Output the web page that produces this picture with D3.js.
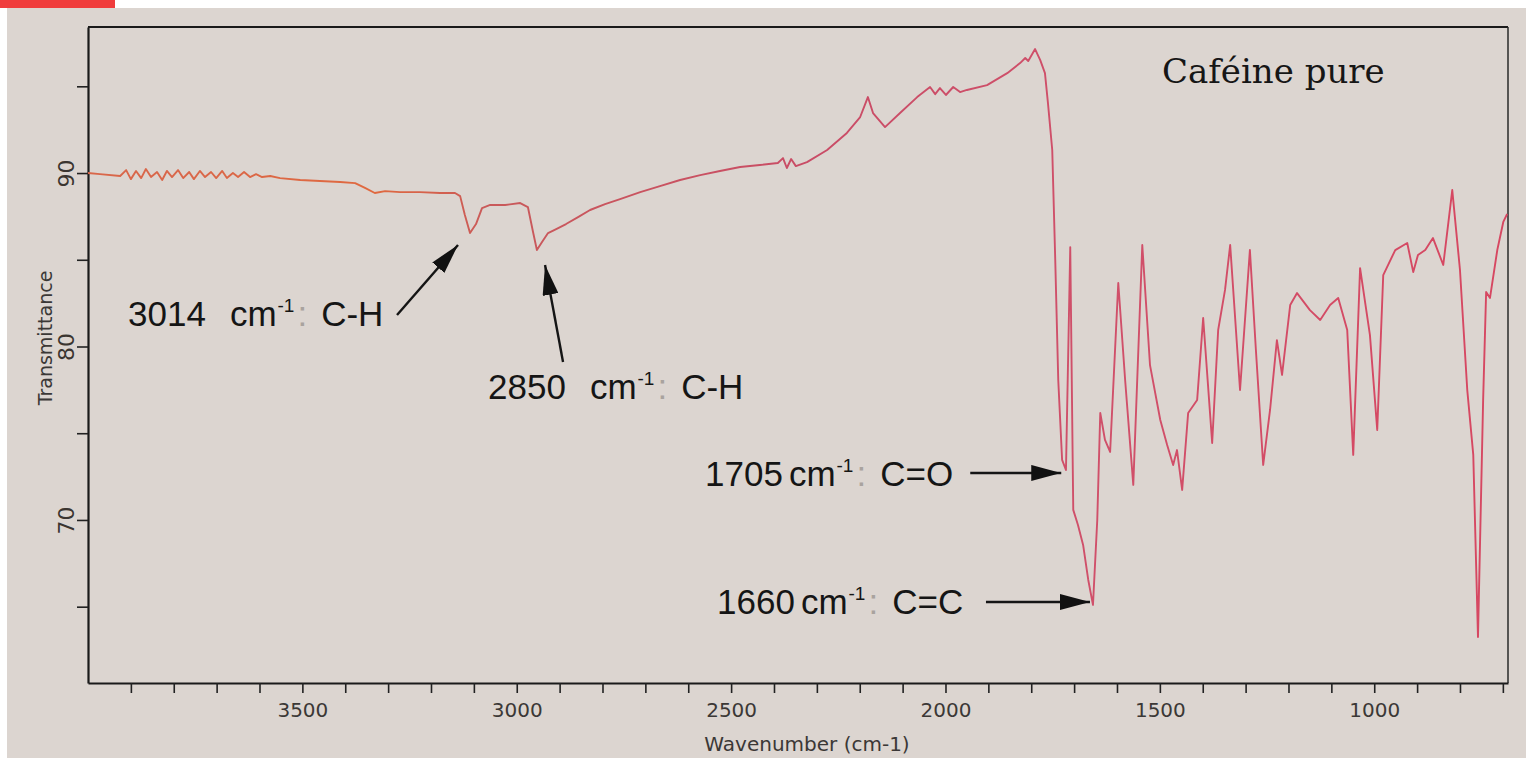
<!DOCTYPE html>
<html>
<head>
<meta charset="utf-8">
<script src="https://cdn.jsdelivr.net/npm/d3@7"></script>
<style>
  body { margin: 0; background: #ffffff; }
  svg { display: block; }
</style>
</head>
<body>
<div id="chart"></div>
<script>
// spectrum (cm-1 and %T)
var wavenumber = [4000,3972,3925,3911,3900,3888,3876,3865,3853,3839,
  3827,3816,3804,3790,3778,3764,3753,3739,3727,3713,
  3701,3687,3676,3662,3650,3636,3622,3608,3594,3575,
  3552,3505,3459,3412,3377,3354,3331,3307,3272,3226,
  3179,3144,3132,3121,3109,3095,3081,3062,3027,2992,
  2974,2962,2953,2941,2927,2908,2885,2857,2829,2794,
  2759,2712,2666,2619,2572,2526,2479,2433,2391,2379,
  2370,2360,2349,2323,2276,2230,2199,2181,2169,2141,
  2106,2066,2036,2024,2013,1999,1982,1966,1950,1903,
  1856,1826,1814,1807,1791,1779,1768,1761,1751,1744,
  1737,1728,1719,1709,1702,1691,1679,1667,1656,1646,
  1639,1628,1616,1597,1581,1562,1541,1523,1499,1483,
  1469,1460,1448,1434,1413,1399,1378,1364,1348,1336,
  1313,1290,1276,1259,1243,1227,1215,1196,1180,1150,
  1126,1103,1084,1063,1049,1033,1010,993,979,951,
  923,909,898,881,863,839,818,800,783,769,
  758,746,739,730,713,699,690];

var transmittance = [90.0,89.94,89.83,90.17,89.65,90.12,89.71,90.23,89.77,90.06,
  89.60,90.12,89.77,90.17,89.71,90.06,89.65,90.12,89.77,90.06,
  89.71,90.12,89.71,90.0,89.77,90.06,89.77,89.94,89.77,89.83,
  89.71,89.60,89.54,89.48,89.42,89.14,88.85,88.96,88.90,88.90,
  88.85,88.85,88.67,87.58,86.54,87.06,87.98,88.16,88.16,88.27,
  88.04,86.60,85.56,86.02,86.54,86.77,87.06,87.46,87.87,88.21,
  88.50,88.90,89.25,89.60,89.88,90.12,90.35,90.46,90.58,90.86,
  90.29,90.81,90.40,90.63,91.33,92.31,93.23,94.38,93.46,92.65,
  93.46,94.38,94.96,94.55,94.90,94.50,94.96,94.67,94.79,95.07,
  95.76,96.34,96.63,96.46,97.15,96.51,95.76,94.03,91.33,84.99,
  78.07,73.46,72.88,85.73,70.58,69.71,68.56,66.54,65.10,70.00,
  76.17,74.61,73.92,83.66,78.07,72.02,85.85,78.93,75.76,74.32,
  73.17,74.03,71.73,76.17,76.92,81.64,74.44,80.95,83.26,85.85,
  77.49,85.56,79.80,73.17,76.34,80.37,78.36,82.39,83.08,82.10,
  81.53,82.39,82.80,80.95,73.75,84.52,80.66,75.19,84.12,85.56,
  85.97,84.29,85.27,85.56,86.25,84.70,89.02,84.41,77.49,73.75,
  63.25,76.92,83.14,82.80,85.56,87.18,87.64];

var xTicks = [3900,3800,3700,3600,3500,3400,3300,3200,3100,3000,2900,2800,2700,2600,2500,
  2400,2300,2200,2100,2000,1900,1800,1700,1600,1500,1400,1300,1200,1100,1000,900,800,700];
var xLabels = [3500, 3000, 2500, 2000, 1500, 1000];
var yTicks = [95, 90, 85, 80, 75, 70, 65];
var yLabels = [90, 80, 70];

// annotations: number, group, arrow tip (cm-1, %T)
var peakNumbers = ["3014", "2850", "1705", "1660"];
var peakGroups = ["C-H", "C-H", "C=O", "C=C"];
var tipWavenumber = [3137, 2934, 1730, 1663];
var tipTransmittance = [85.85, 84.70, 72.71, 65.27];

var W = 1526, H = 758;
var margin = { top: 27, right: 18, bottom: 75, left: 88 },
    width = W - margin.left - margin.right,
    height = H - margin.top - margin.bottom;

var svg = d3.select("#chart").append("svg")
    .attr("width", W).attr("height", H);

// photo background + the little red strip in the corner
svg.append("rect").attr("x", 7).attr("y", 8).attr("width", W - 7).attr("height", H - 8)
    .attr("fill", "#dcd5d0");
svg.append("rect").attr("x", 0).attr("y", 0).attr("width", 115).attr("height", 8)
    .attr("fill", "#f03c3c");

var defs = svg.append("defs");
var grad = defs.append("linearGradient").attr("id", "lineGrad")
    .attr("gradientUnits", "userSpaceOnUse")
    .attr("x1", margin.left).attr("x2", margin.left + width).attr("y1", 0).attr("y2", 0);
[["0%", "#d9674a"], ["14%", "#e0693f"], ["22%", "#c95a5a"], ["45%", "#c94c66"],
 ["65%", "#d0506a"], ["100%", "#d8455f"]].forEach(function (s) {
    grad.append("stop").attr("offset", s[0]).attr("stop-color", s[1]);
});
defs.append("marker").attr("id", "arrow")
    .attr("viewBox", "0 0 30 16").attr("refX", 30).attr("refY", 8)
    .attr("markerWidth", 30).attr("markerHeight", 16)
    .attr("markerUnits", "userSpaceOnUse").attr("orient", "auto")
    .append("path").attr("d", "M0,0 L30,8 L0,16 Z").attr("fill", "#111");

var g = svg.append("g")
    .attr("transform", "translate(" + margin.left + "," + margin.top + ")");

var x = d3.scaleLinear().domain([4000, 688]).range([0, width]);
var y = d3.scaleLinear().domain([60.6, 98.42]).range([height, 0]);

// frame (top and right)
g.append("line").attr("x1", 0).attr("x2", width).attr("y1", 0).attr("y2", 0)
    .attr("stroke", "#1a1a1a").attr("stroke-width", 2);
g.append("line").attr("x1", width).attr("x2", width).attr("y1", 0).attr("y2", height)
    .attr("stroke", "#2a2a2a").attr("stroke-width", 1.5);

// x axis
var xAxis = g.append("g")
    .attr("transform", "translate(0," + height + ")")
    .call(d3.axisBottom(x).tickValues(xTicks).tickSize(10).tickSizeOuter(0)
        .tickFormat(function (d) { return xLabels.indexOf(d) >= 0 ? d : ""; }));
xAxis.select(".domain").attr("stroke", "#1a1a1a").attr("stroke-width", 2.2);
xAxis.selectAll(".tick line").attr("stroke", "#222").attr("stroke-width", 1.6);
xAxis.selectAll("text")
    .attr("y", 20).attr("dy", "0.71em")
    .style("font-family", "DejaVu Sans, sans-serif").style("font-size", "20px")
    .attr("fill", "#3b3836");

// y axis
var yAxis = g.append("g")
    .call(d3.axisLeft(y).tickValues(yTicks).tickSize(11).tickSizeOuter(0)
        .tickFormat(function (d) { return yLabels.indexOf(d) >= 0 ? d : ""; }));
yAxis.select(".domain").attr("stroke", "#1a1a1a").attr("stroke-width", 2.2);
yAxis.selectAll(".tick line").attr("stroke", "#222").attr("stroke-width", 1.6);
yAxis.selectAll("text")
    .attr("x", 0).attr("dy", 0)
    .attr("text-anchor", "middle")
    .attr("transform", "translate(-14,0) rotate(-90)")
    .style("font-family", "DejaVu Sans, sans-serif").style("font-size", "22px")
    .attr("fill", "#3b3530");

// axis titles
svg.append("text")
    .attr("x", 807).attr("y", 751)
    .attr("text-anchor", "middle")
    .style("font-family", "DejaVu Sans, sans-serif").style("font-size", "20px")
    .attr("fill", "#3b3836")
    .text("Wavenumber (cm-1)");
svg.append("text")
    .attr("transform", "translate(52,338) rotate(-90)")
    .attr("text-anchor", "middle")
    .style("font-family", "DejaVu Sans, sans-serif").style("font-size", "19px")
    .attr("fill", "#3b3836")
    .text("Transmittance");

// spectrum
var line = d3.line()
    .x(function (d, i) { return x(wavenumber[i]); })
    .y(function (d, i) { return y(transmittance[i]); });
g.append("path")
    .datum(wavenumber)
    .attr("d", line)
    .attr("fill", "none")
    .attr("stroke", "url(#lineGrad)")
    .attr("stroke-width", 1.9)
    .attr("stroke-linejoin", "round");

// sample name
svg.append("text")
    .attr("x", 1162).attr("y", 83)
    .style("font-family", "DejaVu Serif, serif").style("font-size", "34px")
    .attr("fill", "#161616")
    .text("Caféine pure");

// peak labels
var labelPos = [[128, 326], [488, 399], [705, 486], [717, 614]];
var numGap = [24, 24, 6, 6];
var tailOffset = [[-61, 70], [18, 97], [-91, 0], [-104, 0]];

peakNumbers.forEach(function (num, i) {
    var t = svg.append("text")
        .attr("x", labelPos[i][0]).attr("y", labelPos[i][1])
        .style("font-family", "Liberation Sans, Arial, sans-serif")
        .style("font-size", "35px")
        .attr("fill", "#151515");
    t.append("tspan").text(num);
    t.append("tspan").attr("dx", numGap[i]).text("cm");
    t.append("tspan").attr("dx", 1).attr("dy", -14).style("font-size", "19px").text("-1");
    t.append("tspan").attr("dx", 3).attr("dy", 14).attr("fill", "#a9a39e").text(":");
    t.append("tspan").attr("dx", 14).text(peakGroups[i]);

    var tx = margin.left + x(tipWavenumber[i]);
    var ty = margin.top + y(tipTransmittance[i]);
    svg.append("line")
        .attr("x1", tx + tailOffset[i][0]).attr("y1", ty + tailOffset[i][1])
        .attr("x2", tx).attr("y2", ty)
        .attr("stroke", "#151515").attr("stroke-width", 2.4)
        .attr("marker-end", "url(#arrow)");
});
</script>
</body>
</html>
